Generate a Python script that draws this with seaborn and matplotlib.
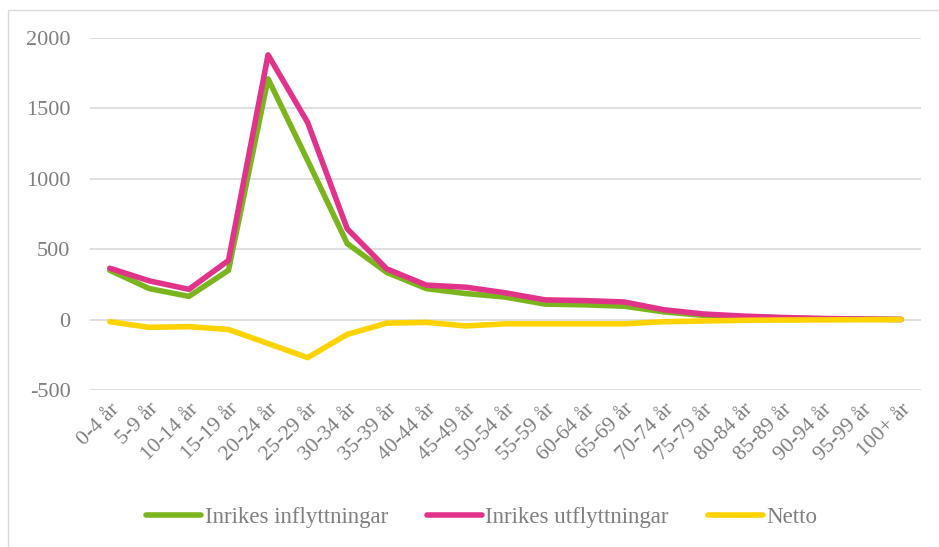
import matplotlib
matplotlib.use("Agg")
import matplotlib.pyplot as plt
import seaborn as sns
import pandas as pd
from matplotlib.patches import Rectangle

categories = ["0-4 år", "5-9 år", "10-14 år", "15-19 år", "20-24 år", "25-29 år",
              "30-34 år", "35-39 år", "40-44 år", "45-49 år", "50-54 år", "55-59 år",
              "60-64 år", "65-69 år", "70-74 år", "75-79 år", "80-84 år", "85-89 år",
              "90-94 år", "95-99 år", "100+ år"]
inflytt = [350, 220, 165, 350, 1710, 1130, 540, 335, 220, 185, 160, 110,
           105, 95, 55, 30, 20, 12, 6, 3, 1]
utflytt = [365, 275, 215, 420, 1880, 1400, 645, 360, 245, 230, 190, 140,
           135, 125, 70, 40, 25, 15, 8, 4, 1]
netto = [-15, -55, -50, -70, -170, -270, -105, -25, -20, -45, -30, -30,
         -30, -30, -15, -10, -5, -3, -2, -1, 0]
series_names = ["Inrikes inflyttningar", "Inrikes utflyttningar", "Netto"]
colors = ["#7AB51D", "#E2338A", "#FFD200"]
yticks = [-500, 0, 500, 1000, 1500, 2000]

rows = []
for name, vals in zip(series_names, [inflytt, utflytt, netto]):
    for c, v in zip(categories, vals):
        rows.append({"Ålder": c, "Värde": v, "Serie": name})
df = pd.DataFrame(rows)

sns.set_theme(style="white")
plt.rcParams["font.family"] = ["Liberation Serif", "DejaVu Serif"]
text_color = "#7F7F7F"
fs = 15.5

fig = plt.figure(figsize=(9.39, 5.47), dpi=100)
ax = fig.add_axes([90 / 939, 1 - 390 / 547, (921 - 90) / 939, (390 - 38) / 547])

sns.lineplot(data=df, x="Ålder", y="Värde", hue="Serie", hue_order=series_names,
             palette=colors, linewidth=4.0, ax=ax, sort=False,
             solid_capstyle="round", solid_joinstyle="round")

ax.set_xlim(-0.5, len(categories) - 0.5)
ax.set_ylim(-500, 2000)
ax.set_yticks(yticks)
ax.set_yticklabels([str(t) for t in yticks])
ax.set_xticks(range(len(categories)))
ax.set_xticklabels(categories, rotation=45, ha="right", rotation_mode="anchor")
ax.tick_params(axis="y", length=0, pad=14, labelsize=fs + 0.5, labelcolor=text_color)
ax.tick_params(axis="x", length=0, pad=7, labelsize=fs, labelcolor=text_color)
ax.set_xlabel("")
ax.set_ylabel("")
ax.grid(axis="y", color="#D9D9D9", linewidth=1.2)
ax.grid(axis="x", visible=False)
ax.set_axisbelow(True)
for s in ax.spines.values():
    s.set_visible(False)

handles, labels = ax.get_legend_handles_labels()
if ax.legend_:
    ax.legend_.remove()
for h in handles:
    h.set_linewidth(4.0)
leg = fig.legend(handles, labels, loc="center", bbox_to_anchor=(0.513, 1 - 517 / 547),
                 ncol=3, frameon=False, fontsize=16.5, handlelength=2.4,
                 handletextpad=0.15, columnspacing=1.7)
for t in leg.get_texts():
    t.set_color(text_color)

fig.patches.append(Rectangle((7.5 / 939, -0.1), 1.2, 1.1 - 9.5 / 547,
                             transform=fig.transFigure, fill=False,
                             edgecolor="#D9D9D9", linewidth=1.0))

fig.savefig("out.png", dpi=100)
